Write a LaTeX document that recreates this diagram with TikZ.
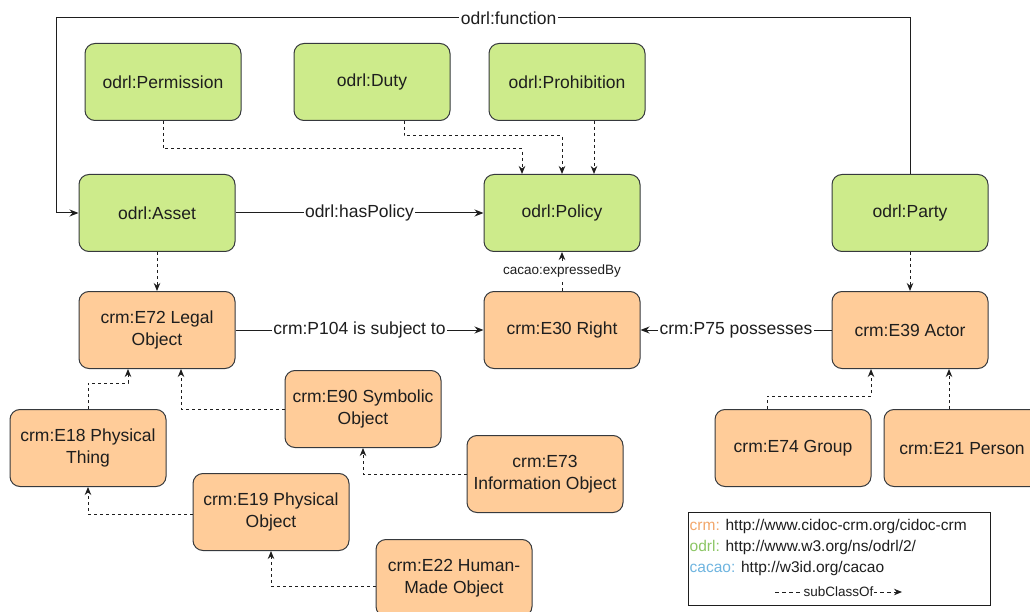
\documentclass[tikz,border=0pt]{standalone}
\usepackage{fontspec}
\setmainfont{Liberation Sans}
\usetikzlibrary{arrows.meta,positioning}

\definecolor{odrlfill}{HTML}{CDEB8B}
\definecolor{crmfill}{HTML}{FFCC99}
\definecolor{boxline}{HTML}{36393D}
\definecolor{txt}{HTML}{1E1E1E}
\definecolor{crmkey}{HTML}{F3A76B}
\definecolor{odrlkey}{HTML}{8CC665}
\definecolor{cacaokey}{HTML}{6FB5E0}

\tikzset{
  cls/.style={rectangle, rounded corners=10pt, draw=boxline, line width=1pt,
    minimum width=156pt, minimum height=77pt, align=center, text=txt,
    font=\fontsize{17.5}{22}\selectfont, inner sep=2pt},
  odrl/.style={cls, fill=odrlfill},
  crm/.style={cls, fill=crmfill},
  rel/.style={draw=txt, line width=1pt, -{Stealth[length=9pt,width=7pt]}},
  sub/.style={draw=txt, line width=1pt, dash pattern=on 3pt off 3pt,
    -{Stealth[length=8pt,width=6.5pt]}},
  lbl/.style={fill=white, text=txt, inner sep=1.5pt,
    font=\fontsize{17.5}{22}\selectfont},
  smalllbl/.style={fill=white, text=txt, inner sep=1.5pt,
    font=\fontsize{13.5}{16}\selectfont},
  keytext/.style={anchor=west, text=txt, inner sep=0pt,
    font=\fontsize{15.5}{18}\selectfont},
}

\begin{document}
\begin{tikzpicture}[x=1pt, y=-1pt]
\useasboundingbox (0,0) rectangle (1030,612);
\fill[white] (0,0) rectangle (1030,612);

% ODRL classes
\node[odrl] (perm)  at (163,82)  {odrl:Permission};
\node[odrl] (duty)  at (372,82)  {odrl:Duty};
\node[odrl] (proh)  at (567,82)  {odrl:Prohibition};
\node[odrl] (asset) at (157,213) {odrl:Asset};
\node[odrl] (pol)   at (562,213) {odrl:Policy};
\node[odrl] (party) at (910,213) {odrl:Party};

% CIDOC-CRM classes
\node[crm] (e72) at (157,330) {crm:E72 Legal\\Object};
\node[crm] (e30) at (562,330) {crm:E30 Right};
\node[crm] (e39) at (910,330) {crm:E39 Actor};
\node[crm] (e90) at (363,409) {crm:E90 Symbolic\\Object};
\node[crm] (e18) at (88,448)  {crm:E18 Physical\\Thing};
\node[crm] (e73) at (545,474) {crm:E73\\Information Object};
\node[crm] (e19) at (271,512) {crm:E19 Physical\\Object};
\node[crm] (e22) at (454,578) {crm:E22 Human-\\Made Object};
\node[crm] (e74) at (793,448) {crm:E74 Group};
\node[crm] (e21) at (962,448) {crm:E21 Person};

% odrl:function loop over the top
\coordinate (ftop) at (56,18);
\draw[rel] (party.north) -- (party.north |- ftop)
  -- node[lbl, pos=0.47] {odrl:function} (ftop) |- (asset.west);

% object properties
\draw[rel] (asset) -- node[lbl] {odrl:hasPolicy} (pol);
\draw[rel] (e72) -- node[lbl] {crm:P104 is subject to} (e30);
\draw[rel] (e39) -- node[lbl] {crm:P75 possesses} (e30);
\draw[sub] (e30.north) -- node[smalllbl] {cacao:expressedBy} (pol.south);

% subclass links among ODRL rules
\draw[sub] (perm.south) -- ++(0,28) -| ([xshift=-40pt]pol.north);
\draw[sub] ([xshift=32pt]duty.south) -- ++(0,15) -| (pol.north);
\draw[sub] ([xshift=27pt]proh.south) -- ([xshift=27pt]proh.south |- pol.north);

% ODRL to CRM alignment
\draw[sub] (asset.south) -- (e72.north);
\draw[sub] (party.south) -- (e39.north);

% CRM hierarchy
\draw[sub] (e18.north) -- ++(0,-26) -| ([xshift=-29pt]e72.south);
\draw[sub] (e90.west) -| ([xshift=24pt]e72.south);
\draw[sub] (e73.west) -| (e90.south);
\draw[sub] ([yshift=-2pt]e19.west) -| (e18.south);
\draw[sub] ([yshift=-8pt]e22.west) -| (e19.south);
\draw[sub] ([xshift=-26pt]e74.north) -- ++(0,-13) -| ([xshift=-39pt]e39.south);
\draw[sub] ([xshift=39pt]e39.south |- e21.north) -- ([xshift=39pt]e39.south);

% namespace key
\node[draw=txt, line width=1pt, fill=white, minimum width=302pt,
  minimum height=93pt] (key) at (839,558.5) {};
\node[keytext] (k1) at ([xshift=2pt,yshift=32pt]key.west)
  {\textcolor{crmkey}{crm:} http://www.cidoc-crm.org/cidoc-crm};
\node[keytext] (k2) at ([xshift=2pt,yshift=11pt]key.west)
  {\textcolor{odrlkey}{odrl:} http://www.w3.org/ns/odrl/2/};
\node[keytext] (k3) at ([xshift=2pt,yshift=-10pt]key.west)
  {\textcolor{cacaokey}{cacao:} http://w3id.org/cacao};
\coordinate (ka) at (775,592);
\coordinate (kb) at (902,592);
\draw[sub, dash pattern=on 4pt off 3pt] (ka) -- node[fill=white, text=txt,
  inner sep=1pt, font=\fontsize{13.5}{16}\selectfont] {subClassOf} (kb);
\end{tikzpicture}
\end{document}
